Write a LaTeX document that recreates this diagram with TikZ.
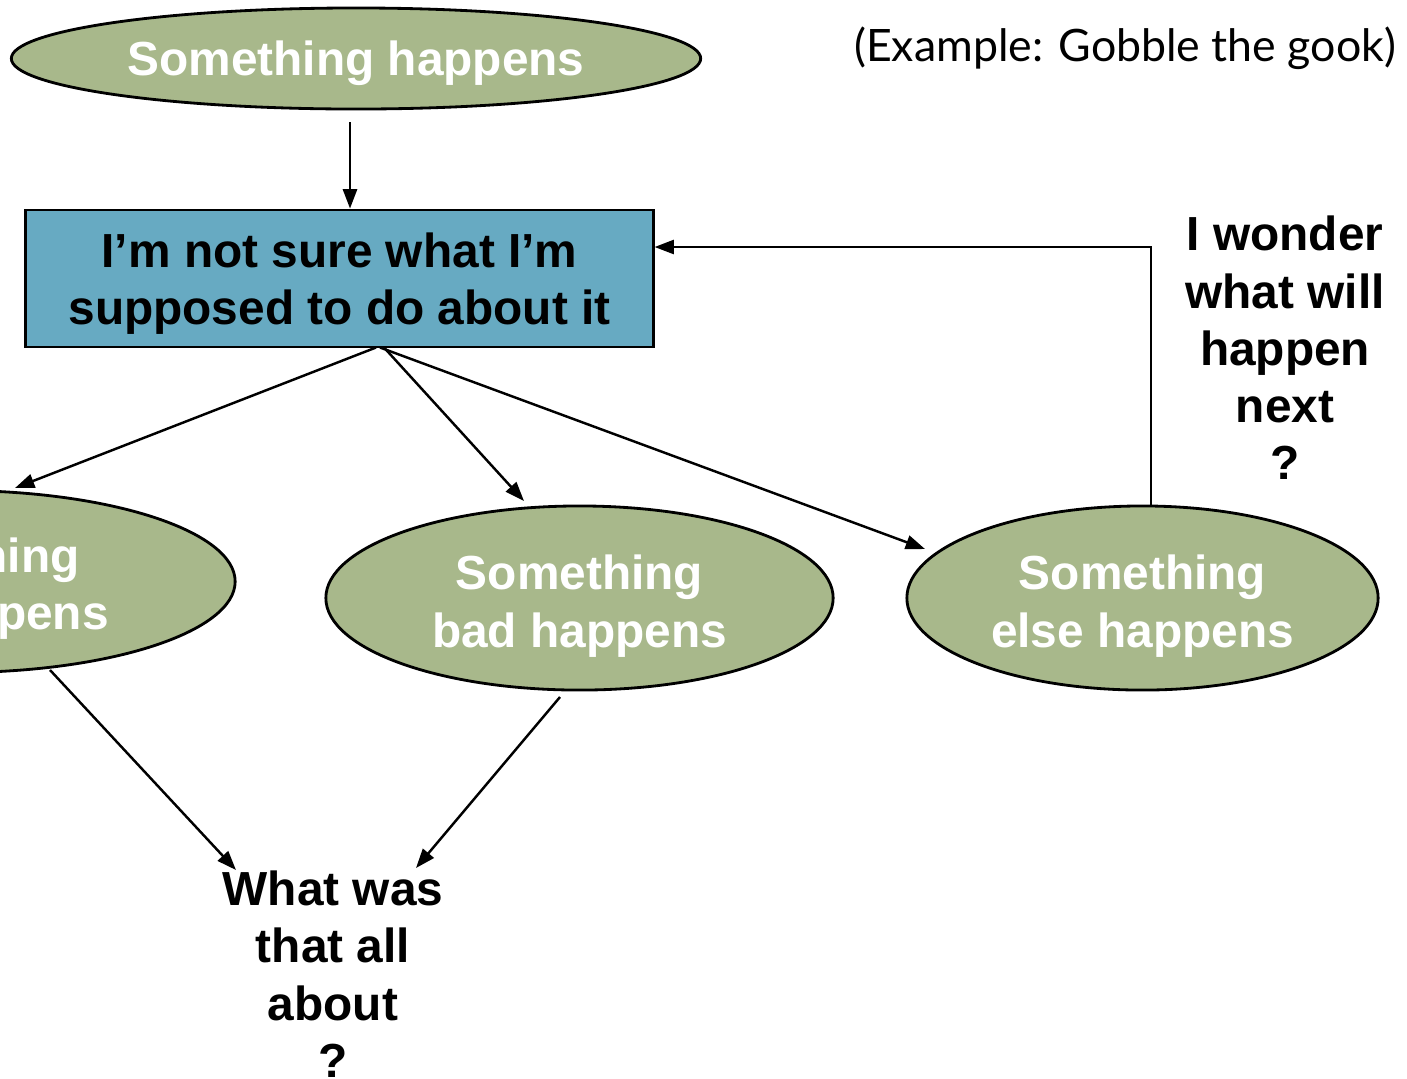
\documentclass[tikz,border=0pt]{standalone}
\usepackage{fontspec}
\setmainfont{Liberation Sans}
\newfontfamily\examplefont{Lato}
\usetikzlibrary{arrows.meta,shapes.geometric}
\definecolor{olivefill}{RGB}{168,184,139}
\definecolor{bluefill}{RGB}{103,170,194}
\tikzset{
  evt/.style={ellipse, draw=black, line width=0.8pt, fill=olivefill, inner sep=0pt},
  evtl/.style={inner sep=0pt, text=white, font=\fontsize{13.6}{16.3}\selectfont\bfseries, align=center},
  qbox/.style={rectangle, draw=black, line width=0.8pt, fill=bluefill, inner sep=0pt,
    minimum width=6.27cm, minimum height=1.37cm},
  qtext/.style={inner sep=0pt, font=\fontsize{13.6}{16.3}\selectfont\bfseries, align=center},
  arr/.style={line width=0.7pt, -{Triangle[length=5.5pt,width=4pt]}},
}
\begin{document}
\begin{tikzpicture}[x=0.01cm,y=-0.01cm]
\clip (0,0) rectangle (1407,1078);
\fill[white] (0,0) rectangle (1407,1078);

\node[evt, minimum width=6.89cm, minimum height=1.01cm,
  label={[evtl, yshift=-0.05cm]center:Something happens}] (top) at (356,58.5) {};
\node[qbox, label={[qtext, yshift=-0.05cm]center:{I’m not sure what I’m\\supposed to do about it}}] (box) at (339.5,278.5) {};
\node[evt, minimum width=5.58cm, minimum height=1.82cm,
  label={[evtl, yshift=-0.07cm]center:{Something\\nice happens}}] (le) at (-44,581.5) {};
\node[evt, minimum width=5.07cm, minimum height=1.84cm,
  label={[evtl, yshift=-0.08cm]center:{Something\\bad happens}}] (me) at (579.5,598) {};
\node[evt, minimum width=4.71cm, minimum height=1.84cm,
  label={[evtl, yshift=-0.08cm]center:{Something\\else happens}}] (re) at (1142.5,598) {};

\node[qtext] (wonder) at (1285,348) {I wonder\\what will\\happen\\next\\?};
\node[qtext] (what) at (333,974) {What was\\that all\\about\\?};
\node[inner sep=0pt, anchor=base, font=\examplefont\fontsize{12.7}{15}\selectfont] (ex) at (1125,61) {(Example: Gobble the gook)};

% connectors
\coordinate (t0) at (350,122);
\draw[arr] (t0) -- (box.north -| t0);

\coordinate (s1) at (376,347.5);
\coordinate (s2) at (384,347.5);
\coordinate (s3) at (380,347.5);
\coordinate (e1) at (15,488);
\coordinate (e2) at (524,501);
\coordinate (e3) at (925,549);
\draw[arr] (s1) -- (e1);
\draw[arr] (s2) -- (e2);
\draw[arr] (s3) -- (e3);

\coordinate (fb) at (1151,247);
\draw[arr] (re.north -| fb) -- (fb) -- (box.east |- fb);

\coordinate (l0) at (50,670);
\coordinate (l1) at (236,870);
\coordinate (m0) at (560,697);
\coordinate (m1) at (416,868);
\draw[arr] (l0) -- (l1);
\draw[arr] (m0) -- (m1);
\end{tikzpicture}
\end{document}
